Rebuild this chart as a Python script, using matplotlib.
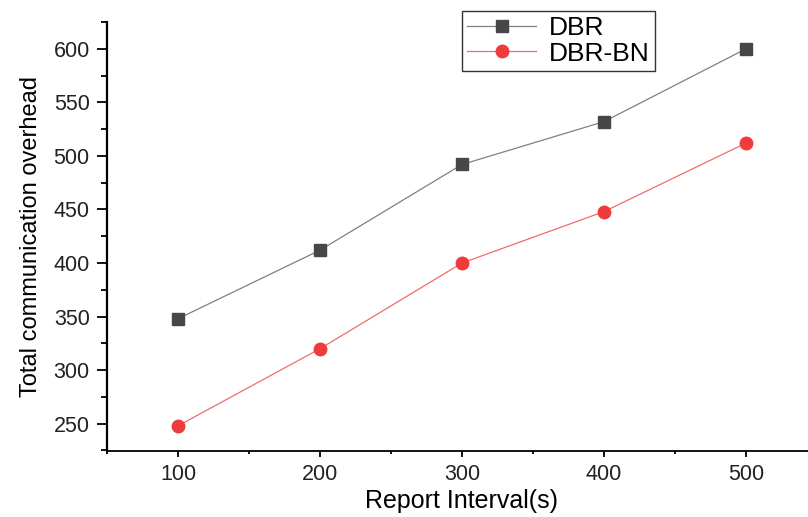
import matplotlib
matplotlib.use('Agg')
import matplotlib.pyplot as plt
from matplotlib.ticker import MultipleLocator

intervals = [100, 200, 300, 400, 500]
dbr = [348, 412, 492, 532, 600]
dbr_bn = [248, 320, 400, 448, 512]

plt.rcParams['font.family'] = ['Liberation Sans', 'DejaVu Sans']

fig = plt.figure(figsize=(8.08, 5.17), dpi=100)
# x axis runs past the right edge, as in the (cropped) original
ax = fig.add_axes([107 / 808, 1 - 451 / 517, 710 / 808, 429.5 / 517])

ax.plot(intervals, dbr, color='#808080', lw=0.9, marker='s', ms=8,
        mfc='#474747', mec='#474747', label='DBR')
ax.plot(intervals, dbr_bn, color='#f26b6b', lw=0.9, marker='o', ms=9,
        mfc='#ef3b3b', mec='#ef3b3b', label='DBR-BN')

ax.set_xlim(50, 550)
ax.set_ylim(224.5, 625.5)
ax.xaxis.set_major_locator(MultipleLocator(100))
ax.xaxis.set_minor_locator(MultipleLocator(50))
ax.yaxis.set_major_locator(MultipleLocator(50))
ax.yaxis.set_minor_locator(MultipleLocator(25))

for side in ['top', 'right']:
    ax.spines[side].set_visible(False)
ax.spines['left'].set_linewidth(1.6)
ax.spines['bottom'].set_linewidth(1.3)

ax.tick_params(axis='y', which='major', direction='out', length=7.5, width=1.3,
               labelsize=15.5, labelcolor='#222222', pad=5)
ax.tick_params(axis='y', which='minor', direction='out', length=4.5, width=1.3)
ax.tick_params(axis='x', which='major', direction='out', length=4.5, width=1.3,
               labelsize=15.5, labelcolor='#222222', pad=5)
ax.tick_params(axis='x', which='minor', direction='out', length=2.5, width=1.3)

ax.set_xlabel('Report Interval(s)', fontsize=18, labelpad=3)
ax.set_ylabel('Total communication overhead', fontsize=17, labelpad=8)

leg = ax.legend(loc='upper left', bbox_to_anchor=(462 / 808, 1 - 11 / 517),
                bbox_transform=fig.transFigure, fontsize=19, fancybox=False,
                edgecolor='#333333', framealpha=1, handlelength=2.6,
                borderpad=0.2, labelspacing=0.05, handletextpad=0.5,
                borderaxespad=0)
leg.get_frame().set_linewidth(1.0)

fig.savefig('out.png', dpi=100)
